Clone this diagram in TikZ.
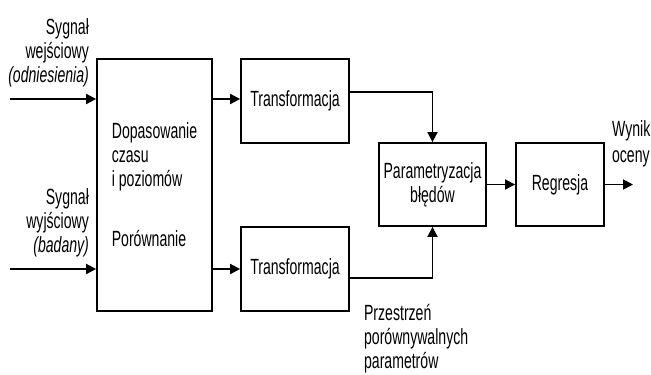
\documentclass[tikz,border=0pt]{standalone}
\usepackage{fontspec}
\setmainfont{Liberation Sans}[FakeStretch=0.64]
\usetikzlibrary{arrows.meta,positioning}
\tikzset{
  blok/.style={draw, line width=1.8pt, inner sep=0pt, align=center, font=\fontsize{22}{24}\selectfont},
  opis/.style={inner sep=0pt, font=\fontsize{22}{24}\selectfont},
  strz/.style={line width=1.8pt, -{Triangle[length=10pt,width=10pt]}}
}
\begin{document}
\begin{tikzpicture}[x=1pt,y=-1pt]
                    \useasboundingbox (0,0) rectangle (651,375);
                    \node[blok, minimum width=115pt, minimum height=252pt, align=left] (dop) at (154.5,185) {Dopasowanie\\czasu\\i poziomów\\[36pt]Porównanie};
                    \node[blok, minimum width=108pt, minimum height=84pt] (tr1) at (295,101) {Transformacja};
                    \node[blok, minimum width=108pt, minimum height=84pt] (tr2) at (295,269) {Transformacja};
                    \node[blok, minimum width=107pt, minimum height=83pt] (par) at (432.5,184.5) {Parametryzacja\\błędów};
                    \node[blok, minimum width=88pt, minimum height=83pt] (reg) at (560,184.5) {Regresja};
                    \coordinate (we1) at (10,99);
                    \coordinate (we2) at (10,269);
                    \coordinate (wy) at (633,184.5);
                    \draw[strz] (we1) -- (we1 -| dop.west);
                    \draw[strz] (we2) -- (we2 -| dop.west);
                    \draw[strz] (dop.east |- we1) -- (tr1.west |- we1);
                    \draw[strz] (dop.east |- we2) -- (tr2.west |- we2);
                    \draw[strz] ([yshift=9pt]tr1.east) -| (par.north);
                    \draw[strz] ([yshift=-9pt]tr2.east) -| (par.south);
                    \draw[strz] (par.east) -- (reg.west);
                    \draw[strz] (reg.east) -- (wy);
                    \node[opis, align=right, anchor=south east] (sygwe) at ([xshift=-7pt,yshift=12pt]we1 -| dop.west) {Sygnał\\wejściowy\\\textit{(odniesienia)}};
                    \node[opis, align=right, anchor=south east] (sygwy) at ([xshift=-7pt,yshift=12pt]we2 -| dop.west) {Sygnał\\wyjściowy\\\textit{(badany)}};
                    \node[opis, align=left, anchor=south west] (wyn) at ([xshift=7pt,yshift=17pt]reg.east) {Wynik\\[2pt]oceny};
                    \node[opis, align=left, anchor=north west] (prz) at ([xshift=14pt,yshift=8pt]tr2.south east) {Przestrzeń\\porównywalnych\\parametrów};
                \end{tikzpicture}
\end{document}
